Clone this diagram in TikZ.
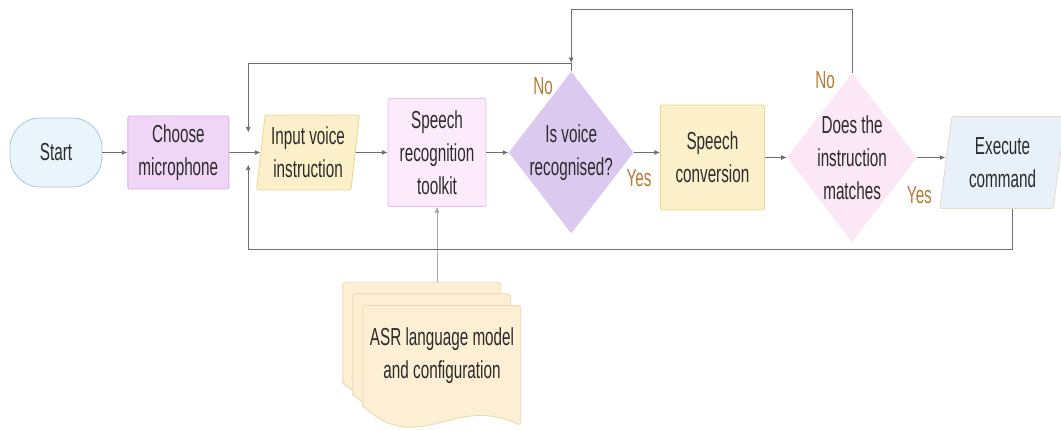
\documentclass[tikz,border=0pt]{standalone}
\usepackage{fontspec}
\setmainfont{Liberation Sans}[FakeStretch=0.62]
\usepackage{xcolor}
\usepackage{tikz}
\usetikzlibrary{positioning,calc,shapes.geometric,arrows.meta,backgrounds}

\definecolor{linegray}{HTML}{6E6E6E}
\definecolor{answer}{HTML}{B77A33}
\definecolor{inkdark}{HTML}{2B2B2B}
\definecolor{startfill}{HTML}{EAF5FB}
\definecolor{startline}{HTML}{A8CBDC}
\definecolor{lilacfill}{HTML}{EFD5F6}
\definecolor{lilacline}{HTML}{D9B3E3}
\definecolor{pinkfill}{HTML}{FCECFB}
\definecolor{pinkline}{HTML}{E9BDEE}
\definecolor{creamfill}{HTML}{FCF0CA}
\definecolor{creamline}{HTML}{E9D78E}
\definecolor{lavender}{HTML}{DBC9EF}
\definecolor{blush}{HTML}{FBE7F6}
\definecolor{skyfill}{HTML}{E8F1FA}
\definecolor{skyline}{HTML}{E2DDC8}
\definecolor{paperfill}{HTML}{FCEFD3}
\definecolor{paperline}{HTML}{EAD9B5}

\begin{document}
\begin{tikzpicture}[
    font=\fontsize{17.5pt}{23.5pt}\selectfont,
    every node/.style={text=inkdark},
    terminal/.style={
        draw=startline,
        fill=startfill,
        rounded corners=0.75cm,
        line width=0.6pt,
        minimum width=2.3cm,
        minimum height=1.725cm,
        align=center
    },
    process/.style={
        draw,
        rounded corners=1.5pt,
        line width=0.6pt,
        align=center,
        inner sep=2pt
    },
    io/.style={
        trapezium,
        trapezium stretches=true,
        rounded corners=1.5pt,
        line width=0.6pt,
        align=center,
        inner sep=1pt
    },
    decision/.style={
        diamond,
        aspect=0.77,
        align=center,
        inner sep=-8pt
    },
    arrow/.style={-{Latex[length=4pt,width=3.5pt]}, draw=linegray, line width=0.6pt},
    feed/.style={-{Latex[length=4pt,width=3.5pt]}, draw=gray!70, line width=0.4pt},
    answer/.style={text=answer},
    sheet/.style={draw=paperline, fill=paperfill, rounded corners=2pt, line width=0.6pt},
    asrtext/.style={minimum width=3.95cm, minimum height=2.5cm, align=center, inner sep=0pt}
]

\useasboundingbox (0,0) rectangle (26.525,-10.725);

\node[terminal] (start) at (1.4,-3.8125) {Start};
\node[process, draw=lilacline, fill=lilacfill, minimum width=2.525cm, minimum height=1.825cm,
    right=0.625cm of start] (choose) {Choose\\microphone};
\node[io, trapezium left angle=82, trapezium right angle=98, draw=creamline, fill=creamfill,
    minimum width=2.575cm, minimum height=1.875cm, right=0.78cm of choose] (input) {Input voice\\instruction};
\node[process, draw=pinkline, fill=pinkfill, minimum width=2.45cm, minimum height=2.7cm,
    right=0.8cm of input] (sr) {Speech\\recognition\\toolkit};
\node[decision, fill=lavender, minimum width=3.125cm, minimum height=4.05cm,
    right=0.55cm of sr] (d1) {Is voice\\recognised?};
\node[process, draw=creamline, fill=creamfill, minimum width=2.6cm, minimum height=2.625cm,
    right=0.65cm of d1, yshift=-0.125cm] (sc) {Speech\\conversion};
\node[decision, fill=blush, minimum width=3.25cm, minimum height=4.225cm,
    right=0.55cm of sc] (d2) {Does the\\instruction\\matches};
\node[io, trapezium left angle=81, trapezium right angle=99, draw=skyline, fill=skyfill,
    minimum width=3.15cm, minimum height=2.3cm, right=0.7cm of d2, yshift=-0.125cm] (exec) {Execute\\command};

% ASR document stack under the toolkit
\node[asrtext, below=2.45cm of sr, xshift=0.125cm] (asr) {ASR language model\\and configuration};
\begin{scope}[on background layer]
\foreach \k in {2,1,0} {
    \draw[sheet] ([shift={(-0.25*\k,0.29*\k)}]asr.south west) -- ++(0,2.5) -- ++(3.95,0) -- ++(0,-3.0)
        .. controls +(-1.65,0.8) and +(1.4,-1.3) .. ++(-3.95,0.5) -- cycle;
}
\end{scope}
\coordinate (asrtop) at ([yshift=0.58cm]asr.north);

% junction points of the loops
\coordinate[right=0.475cm of choose] (jn);
\coordinate[above=0.5cm of jn] (jtop);
\coordinate[below=0.3cm of jn] (jbot);
\coordinate[above=0.2cm of d1.north] (d1top);

% main path
\draw[arrow] (start) -- (choose);
\draw[arrow] (choose) -- (input);
\draw[arrow] (input) -- (sr);
\draw[arrow] (sr) -- (d1);
\draw[arrow] (d1.east) -- (d1.east -| sc.west);
\draw[arrow] (sc) -- (d2);
\draw[arrow] (d2.east) -- (d2.east -| exec.west);
\draw[feed] (asrtop -| sr.south) -- (sr.south);

% loops back
\draw[arrow] (d1.north) -- (d1top) -| (jtop);
\draw[arrow] (d2.north) -- ++(0,1.575) -| (d1top);
\draw[arrow] ([xshift=0.25cm]exec.south) -- ++(0,-1.0) -| (jbot);

% answers
\node[answer] (no1) at ([shift={(-0.7,-0.375)}]d1.north) {No};
\node[answer] (yes1) at ([shift={(0.125,-0.65)}]d1.east) {Yes};
\node[answer] (no2) at ([shift={(-0.675,-0.175)}]d2.north) {No};
\node[answer] (yes2) at ([shift={(0.05,-0.95)}]d2.east) {Yes};

\end{tikzpicture}
\end{document}
